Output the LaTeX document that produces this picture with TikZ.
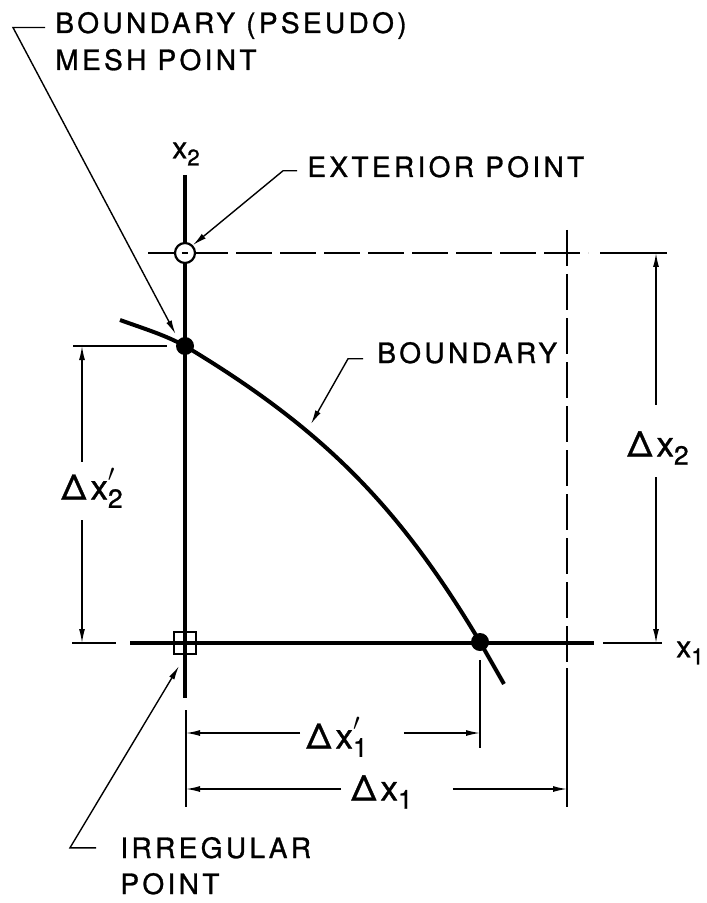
\documentclass[tikz,border=0pt]{standalone}
\usepackage{fontspec}
\setmainfont{TeX Gyre Heros}
\newfontfamily\lettering[LetterSpace=12,FakeBold=1]{TeX Gyre Heros}
\usetikzlibrary{arrows.meta, positioning}
\tikzset{
    axis/.style = {line width=1.6pt},
    boundary/.style = {line width=2pt},
    gridline/.style = {line width=1.3pt, dash pattern=on 18pt off 4pt},
    extline/.style = {line width=0.7pt},
    dimarrow/.style = {line width=0.7pt, ->, >={Latex[length=7pt,width=3pt]}},
    leader/.style = {line width=0.7pt, ->, >={Latex[length=7pt,width=3pt]}},
    label/.style = {font=\lettering\fontsize{14}{18}\selectfont, inner sep=0pt, anchor=base west},
    dimlabel/.style = {font=\lettering\fontsize{17.5}{20}\selectfont, inner sep=0pt},
    axislabel/.style = {font=\lettering\fontsize{15}{17}\selectfont, inner sep=0pt},
    meshpoint/.style = {circle, fill=black, minimum size=9pt, inner sep=0pt},
    extpoint/.style = {circle, draw, line width=1.1pt, fill=white, minimum size=10pt, inner sep=0pt},
    irrpoint/.style = {rectangle, draw, line width=1pt, minimum size=11pt, inner sep=0pt}
}
\newcommand{\subs}[1]{\raisebox{-0.45ex}{\scalebox{0.75}{#1}}}
\newcommand{\primesub}[1]{\makebox[0pt][l]{\raisebox{0.3ex}{$'$}}\subs{#1}}

\begin{document}
\begin{tikzpicture}[x=0.5pt, y=-0.5pt]
    \useasboundingbox (0,0) rectangle (706,903);

    % Axes
    \coordinate (x2top) at (185,175);
    \coordinate (x2end) at (185,698);
    \coordinate (x1left) at (130,643);
    \coordinate (x1end) at (594,643);
    \draw[axis] (x2top) -- (x2end);
    \draw[axis] (x1left) -- (x1end);
    \node[axislabel] (x2lbl) at (186,154) {x\subs{2}};
    \node[axislabel] (x1lbl) at (690,653) {x\subs{1}};

    % Mesh lines through the exterior point
    \coordinate (gridL) at (148,253);
    \coordinate (gridR) at (588,253);
    \coordinate (gridT) at (567,230);
    \coordinate (gridB) at (567,662);
    \draw[gridline] (gridL) -- (gridR);
    \draw[gridline] (gridT) -- (gridB);

    % Boundary curve
    \draw[boundary] (120,320) .. controls (145,329) and (165,335) .. (185,346)
        .. controls (325,430) and (400,508) .. (480,642)
        .. controls (488,656) and (496,670) .. (504,684);
    \coordinate (bndpt) at (311,424);

    % Points
    \node[meshpoint] (mesh) at (185,346) {};
    \node[meshpoint] (cross) at (480,642) {};
    \node[extpoint] (ext) at (185,253) {};
    \draw[line width=1.4pt] ([xshift=-1.6pt]ext.center) -- ([xshift=1.6pt]ext.center);
    \node[irrpoint] (irr) at (185,643) {};

    % Extension lines
    \draw[extline] (73,346) -- (167,346);
    \draw[extline] (72,643) -- (116,643);
    \draw[extline] (600,253) -- (667,253);
    \draw[extline] (603,643) -- (662,643);
    \draw[extline] (186,710) -- (186,807);
    \draw[extline] (480,660) -- (480,748);
    \draw[extline] (567,668) -- (567,807);

    % Dimension Delta x2
    \coordinate (dxtwoT) at (656,253);
    \coordinate (dxtwoB) at (656,643);
    \node[dimlabel] (dxtwo) at (658,448) {Δx\subs{2}};
    \draw[dimarrow, shorten <=13pt] (dxtwo.north -| dxtwoT) -- (dxtwoT);
    \draw[dimarrow, shorten <=6pt] (dxtwo.south -| dxtwoB) -- (dxtwoB);

    % Dimension Delta x2'
    \coordinate (dxtwopT) at (82,346);
    \coordinate (dxtwopB) at (82,643);
    \node[dimlabel] (dxtwop) at (92,488) {Δx\primesub{2}};
    \draw[dimarrow, shorten <=3pt] (dxtwop.north -| dxtwopT) -- (dxtwopT);
    \draw[dimarrow, shorten <=6pt] (dxtwop.south -| dxtwopB) -- (dxtwopB);

    % Dimension Delta x1'
    \coordinate (dxoneL) at (186,733);
    \coordinate (dxoneR) at (480,733);
    \node[dimlabel] (dxonep) at (337,737) {Δx\primesub{1}};
    \draw[dimarrow, shorten <=3pt] (dxonep.west |- dxoneL) -- (dxoneL);
    \draw[dimarrow, shorten <=18pt] (dxonep.east |- dxoneR) -- (dxoneR);

    % Dimension Delta x1
    \coordinate (dxL) at (186,789);
    \coordinate (dxR) at (567,789);
    \node[dimlabel] (dxone) at (382,792) {Δx\subs{1}};
    \draw[dimarrow, shorten <=5pt] (dxone.west |- dxL) -- (dxL);
    \draw[dimarrow, shorten <=20pt] (dxone.east |- dxR) -- (dxR);

    % Labels
    \node[label] (bpm) at (55,33) {BOUNDARY (PSEUDO)};
    \node[label] (bpm2) at ([yshift=-18.5pt]bpm.base west) {MESH POINT};
    \node[label] (extlbl) at (307,177) {EXTERIOR POINT};
    \node[label] (bndlbl) at (377,363) {BOUNDARY};
    \node[label] (irrlbl) at (120,858) {IRREGULAR};
    \node[label] (irrlbl2) at ([yshift=-18pt]irrlbl.base west) {POINT};

    % Leaders
    \draw[leader, shorten >=3pt] ([xshift=-5pt,yshift=-1pt]bpm.west) -- ++(-32,0) -- (mesh.north west);
    \draw[leader] ([xshift=-5pt,yshift=-2pt]extlbl.west) -- ++(-14,0) -- (ext.north east);
    \draw[leader] ([xshift=-7pt,yshift=-3pt]bndlbl.west) -- ++(-15,0) -- (bndpt);
    \draw[leader] ([xshift=-12pt]irrlbl.west) -- ++(-26,0) -- ([shift={(-3pt,-5.5pt)}]irr.south);
\end{tikzpicture}
\end{document}
